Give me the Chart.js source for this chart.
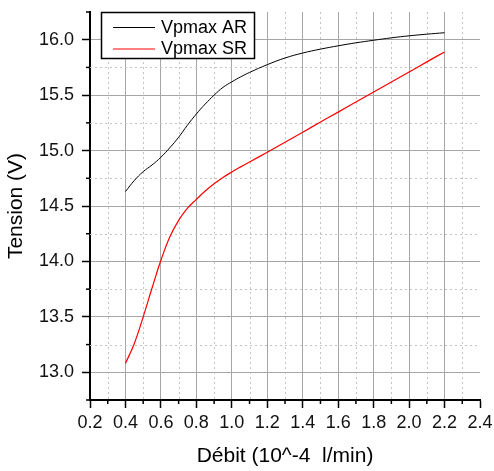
<!DOCTYPE html>
<html>
<head>
<meta charset="utf-8">
<script src="https://cdn.jsdelivr.net/npm/chart.js@4.4.1/dist/chart.umd.min.js"></script>
<style>
    html, body { margin: 0; padding: 0; background: #fff; }
    #wrap { width: 494px; height: 471px; }
</style>
</head>
<body>
<div id="wrap"><canvas id="chart" width="494" height="471"></canvas></div>
<script>
const FONT = 'Arial, "Liberation Sans", sans-serif';

// débit (10^-4 l/min)
const DEBIT = [0.4, 0.45, 0.5, 0.55, 0.6, 0.65, 0.7, 0.75, 0.8, 0.85, 0.9, 0.95, 1.0, 1.05, 1.1,
               1.2, 1.3, 1.4, 1.5, 1.6, 1.7, 1.8, 1.9, 2.0, 2.1, 2.2];
const VPMAX_AR = [14.63, 14.73, 14.81, 14.87, 14.94, 15.025, 15.12, 15.23, 15.33, 15.42, 15.50, 15.57, 15.62, 15.665, 15.705,
                  15.775, 15.835, 15.88, 15.915, 15.945, 15.972, 15.995, 16.017, 16.035, 16.05, 16.063];
const VPMAX_SR = [13.08, 13.26, 13.50, 13.76, 14.01, 14.22, 14.37, 14.48, 14.56, 14.635, 14.70, 14.757, 14.807, 14.853, 14.897,
                  14.985, 15.075, 15.166, 15.257, 15.347, 15.438, 15.528, 15.619, 15.709, 15.80, 15.89];

const X_TICKS = [0.2, 0.4, 0.6, 0.8, 1.0, 1.2, 1.4, 1.6, 1.8, 2.0, 2.2, 2.4];
const X_MINOR = [0.3, 0.5, 0.7, 0.9, 1.1, 1.3, 1.5, 1.7, 1.9, 2.1, 2.3];
const Y_TICKS = [13.0, 13.5, 14.0, 14.5, 15.0, 15.5, 16.0];
const Y_MINOR = [12.75, 13.25, 13.75, 14.25, 14.75, 15.25, 15.75, 16.25];

const toPoints = ys => ys.map((y, i) => ({ x: DEBIT[i], y }));

// dotted minor grid + short minor ticks (Chart.js has no minor ticks for linear axes)
const minorGrid = {
    id: 'minorGrid',
    beforeDatasetsDraw(chart) {
        const { ctx, chartArea: a, scales: { x, y } } = chart;
        ctx.save();
        ctx.lineWidth = 1;
        ctx.strokeStyle = '#c4c4c4';
        ctx.setLineDash([2, 3]);
        X_MINOR.forEach(v => {
            const px = Math.round(x.getPixelForValue(v)) + 0.5;
            ctx.beginPath(); ctx.moveTo(px, a.top); ctx.lineTo(px, a.bottom); ctx.stroke();
        });
        Y_MINOR.forEach(v => {
            if (v <= y.min || v >= y.max) return;
            const py = Math.round(y.getPixelForValue(v)) + 0.5;
            ctx.beginPath(); ctx.moveTo(a.left, py); ctx.lineTo(a.right, py); ctx.stroke();
        });
        ctx.setLineDash([]);
        ctx.strokeStyle = '#000';
        ctx.lineWidth = 1.5;
        X_MINOR.forEach(v => {
            const px = x.getPixelForValue(v);
            ctx.beginPath(); ctx.moveTo(px, a.bottom); ctx.lineTo(px, a.bottom + 4); ctx.stroke();
        });
        Y_MINOR.forEach(v => {
            const py = y.getPixelForValue(v);
            ctx.beginPath(); ctx.moveTo(a.left, py); ctx.lineTo(a.left - 4, py); ctx.stroke();
        });
        ctx.restore();
    },
};

// boxed legend inside the plot, top-left
const boxLegend = {
    id: 'boxLegend',
    afterDatasetsDraw(chart) {
        const { ctx, chartArea: a } = chart;
        const left = a.left + 11, top = a.top, w = 153, h = 46;
        ctx.save();
        ctx.fillStyle = '#fff';
        ctx.fillRect(left, top, w, h);
        ctx.strokeStyle = '#000';
        ctx.lineWidth = 1.5;
        ctx.strokeRect(left + 0.5, top + 0.5, w, h);
        ctx.font = '18px ' + FONT;
        ctx.textBaseline = 'middle';
        chart.data.datasets.forEach((ds, i) => {
            const cy = top + 15 + i * 21.5;
            ctx.strokeStyle = ds.borderColor;
            ctx.lineWidth = 1;
            ctx.beginPath(); ctx.moveTo(left + 12, cy + 0.5); ctx.lineTo(left + 54, cy + 0.5); ctx.stroke();
            ctx.fillStyle = '#000';
            ctx.fillText(ds.label, left + 60, cy + 1);
        });
        ctx.restore();
    },
};

new Chart(document.getElementById('chart'), {
    type: 'line',
    data: {
        datasets: [
            { label: 'Vpmax AR', data: toPoints(VPMAX_AR), borderColor: '#000000', borderWidth: 1 },
            { label: 'Vpmax SR', data: toPoints(VPMAX_SR), borderColor: '#ff0000', borderWidth: 1.2 },
        ],
    },
    options: {
        responsive: false,
        animation: false,
        events: [],
        layout: { padding: { top: 12, right: 14, left: 0, bottom: 0 } },
        elements: {
            point: { radius: 0 },
            line: { tension: 0.4, fill: false },
        },
        plugins: {
            legend: { display: false },
            tooltip: { enabled: false },
        },
        scales: {
            x: {
                type: 'linear',
                min: 0.2,
                max: 2.4,
                afterBuildTicks: s => { s.ticks = X_TICKS.map(v => ({ value: v })); },
                afterFit: s => { s.height = 71; s.paddingLeft = 0; s.paddingRight = 0; },
                ticks: {
                    callback: v => Number(v).toFixed(1),
                    font: { family: FONT, size: 18 },
                    color: '#111',
                    padding: 4,
                    maxRotation: 0,
                    autoSkip: false,
                },
                grid: {
                    color: c => (c.tick && c.tick.value === 2.4 ? 'rgba(0,0,0,0)' : '#a6a6a6'),
                    tickColor: '#000',
                    tickLength: 8,
                    tickWidth: 1.5,
                },
                border: { color: '#000', width: 2 },
                title: {
                    display: true,
                    text: 'Débit (10^-4  l/min)',
                    font: { family: FONT, size: 21 },
                    color: '#000',
                    padding: { top: 0, bottom: 2 },
                },
            },
            y: {
                min: 12.75,
                max: 16.25,
                afterBuildTicks: s => { s.ticks = Y_TICKS.map(v => ({ value: v })); },
                afterFit: s => { s.width = 90; s.paddingTop = 0; s.paddingBottom = 0; },
                ticks: {
                    callback: v => Number(v).toFixed(1),
                    font: { family: FONT, size: 18 },
                    color: '#111',
                    padding: 8,
                },
                grid: {
                    color: '#a6a6a6',
                    tickColor: '#000',
                    tickLength: 8,
                    tickWidth: 1.5,
                },
                border: { color: '#000', width: 2 },
                title: {
                    display: true,
                    text: 'Tension (V)',
                    font: { family: FONT, size: 21 },
                    color: '#000',
                    padding: { top: 4, bottom: 0 },
                },
            },
        },
    },
    plugins: [minorGrid, boxLegend],
});
</script>
</body>
</html>
